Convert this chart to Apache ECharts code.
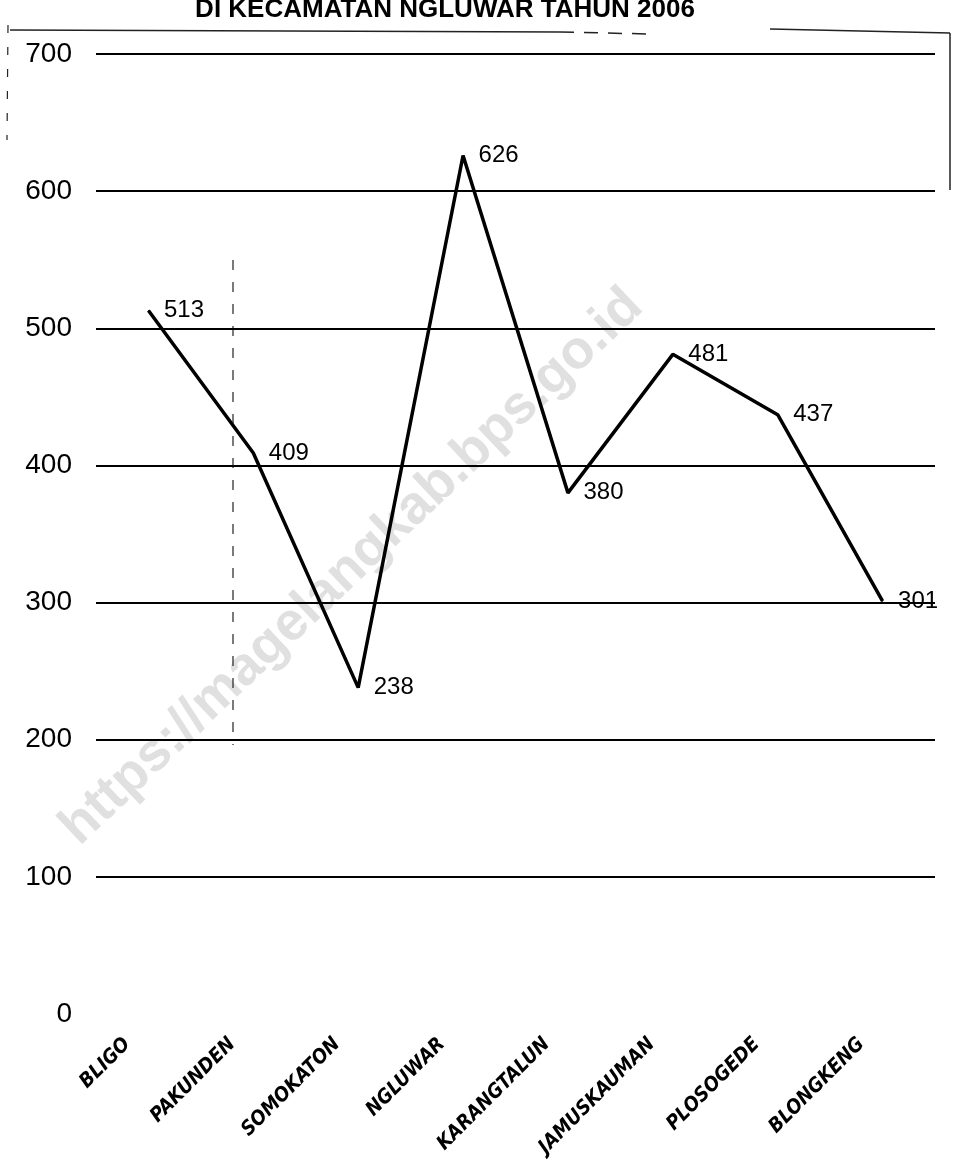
<!DOCTYPE html>
<html>
<head>
<meta charset="utf-8">
<script src="https://cdn.jsdelivr.net/npm/echarts@6/dist/echarts.min.js"></script>
<style>
html,body{margin:0;padding:0;background:#fff;}
#chart{width:962px;height:1174px;}
</style>
</head>
<body>
<div id="chart"></div>
<script>
var categories = ['BLIGO', 'PAKUNDEN', 'SOMOKATON', 'NGLUWAR', 'KARANGTALUN', 'JAMUSKAUMAN', 'PLOSOGEDE', 'BLONGKENG'];
var values = [513, 409, 238, 626, 380, 481, 437, 301];
var titleText = 'DI KECAMATAN NGLUWAR TAHUN 2006';
var watermarkText = 'https://magelangkab.bps.go.id';

var chart = echarts.init(document.getElementById('chart'));
chart.setOption({
  backgroundColor: '#ffffff',
  animation: false,
  title: {
    text: titleText,
    left: 440,
    top: -8,
    textAlign: 'center',
    textStyle: { fontFamily: 'Liberation Sans, Arial', fontWeight: 'bold', fontSize: 26, color: '#000' }
  },
  graphic: [
    {
      type: 'text', z: 0, silent: true,
      x: 352, y: 567, rotation: 0.76,
      style: {
        text: watermarkText, fill: '#e0e0e0',
        font: 'bold 54px "Liberation Sans", Arial',
        textAlign: 'center', textVerticalAlign: 'middle'
      }
    },
    { type: 'line', shape: { x1: 10, y1: 30, x2: 560, y2: 32 }, style: { stroke: '#222', lineWidth: 1.5 } },
    { type: 'line', shape: { x1: 560, y1: 32, x2: 650, y2: 34 }, style: { stroke: '#222', lineWidth: 1.5, lineDash: [14, 10] } },
    { type: 'line', shape: { x1: 770, y1: 29, x2: 950, y2: 33 }, style: { stroke: '#222', lineWidth: 1.5 } },
    { type: 'line', shape: { x1: 950, y1: 33, x2: 950, y2: 190 }, style: { stroke: '#222', lineWidth: 1.5 } },
    { type: 'line', shape: { x1: 8, y1: 25, x2: 7, y2: 140 }, style: { stroke: '#222', lineWidth: 1.2, lineDash: [8, 14] } },
    { type: 'line', shape: { x1: 233, y1: 260, x2: 233, y2: 745 }, style: { stroke: '#222', lineWidth: 1.2, lineDash: [10, 12] } }
  ],
  grid: { left: 96, right: 27, top: 54, bottom: 160, containLabel: false },
  xAxis: {
    type: 'category',
    data: categories,
    boundaryGap: true,
    axisLine: { show: false },
    axisTick: { show: false },
    splitLine: { show: false },
    axisLabel: {
      rotate: 45,
      margin: 6,
      padding: [0, 30, 0, 0],
      interval: 0,
      fontFamily: '"Liberation Sans Narrow", "DejaVu Sans Condensed", sans-serif',
      fontWeight: 'bold',
      fontStyle: 'italic',
      fontSize: 20,
      color: '#000'
    }
  },
  yAxis: {
    type: 'value',
    min: 0,
    max: 700,
    interval: 100,
    axisLine: { show: false },
    axisTick: { show: false },
    axisLabel: {
      margin: 24,
      fontFamily: 'Liberation Sans, Arial',
      fontSize: 28,
      color: '#000',
      showMinLabel: true
    },
    splitLine: {
      show: true,
      showMinLine: false,
      lineStyle: { color: '#000', width: 2 }
    }
  },
  series: [{
    type: 'line',
    data: values,
    z: 5,
    symbol: 'circle',
    symbolSize: 1,
    showSymbol: true,
    itemStyle: { color: '#000' },
    smooth: false,
    lineStyle: { color: '#000', width: 3.5 },
    label: {
      show: true,
      position: 'right',
      distance: 15,
      fontFamily: 'Liberation Sans, Arial',
      fontSize: 24,
      color: '#000'
    }
  }]
});
</script>
</body>
</html>
